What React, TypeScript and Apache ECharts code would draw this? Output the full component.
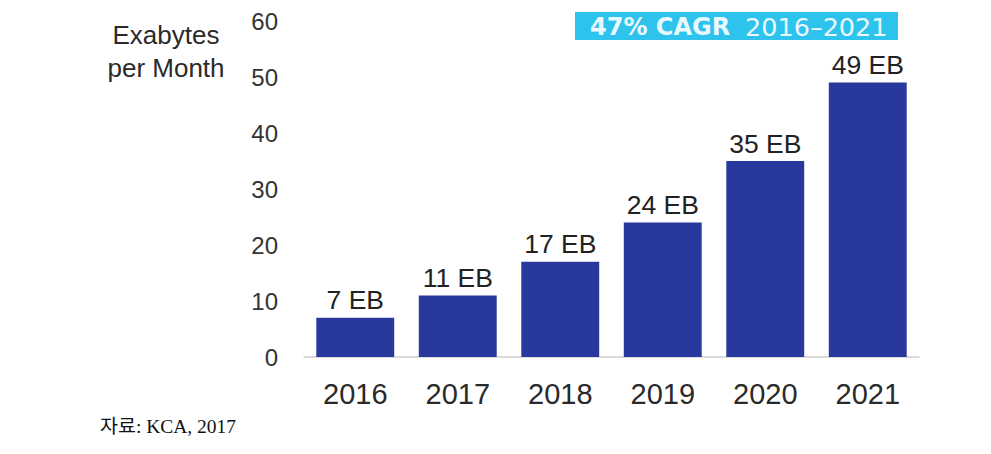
import React, { useEffect, useRef } from "react";
import * as echarts from "echarts";

const categories = ["2016", "2017", "2018", "2019", "2020", "2021"];
const values = [7, 11, 17, 24, 35, 49];
const labelSuffix = " EB";
const yTitleLines = ["Exabytes", "per Month"];
const cagrBold = "47% CAGR";
const cagrRange = "2016–2021";
const sourceText = "자료: KCA, 2017";

export default function App() {
  const ref = useRef<HTMLDivElement>(null);
  useEffect(() => {
    document.body.style.margin = "0";
    const chart = echarts.init(ref.current!, null, { renderer: "svg" });
    const font = "'Liberation Sans', Arial, sans-serif";
    const wide = "'DejaVu Sans', 'Liberation Sans', sans-serif";
    chart.setOption({
      animation: false,
      backgroundColor: "#ffffff",
      grid: { left: 304, right: 72, top: 21, bottom: 97 },
      xAxis: {
        type: "category",
        data: categories,
        axisLine: { show: true, lineStyle: { color: "#cfcfcf", width: 1.5 } },
        axisTick: { show: false },
        axisLabel: { fontSize: 29, color: "#2a2a2a", margin: 22, fontFamily: font },
      },
      yAxis: {
        type: "value",
        min: 0,
        max: 60,
        interval: 10,
        splitLine: { show: false },
        axisLine: { show: false },
        axisTick: { show: false },
        axisLabel: { fontSize: 24, color: "#333333", margin: 26, fontFamily: font, padding: [3, 0, 0, 0] },
      },
      series: [
        {
          type: "bar",
          data: values,
          barCategoryGap: "24%",
          itemStyle: { color: "#28389c" },
          label: {
            show: true,
            position: "top",
            distance: 4,
            fontSize: 26.5,
            color: "#222222",
            fontFamily: font,
            formatter: (p: any) => p.value + labelSuffix,
          },
        },
      ],
      graphic: [
        {
          type: "text",
          x: 166,
          y: 18,
          style: {
            text: yTitleLines.join("\n"),
            font: `26px ${font}`,
            fill: "#2a2a2a",
            align: "center",
            lineHeight: 33,
          },
        },
        {
          type: "rect",
          shape: { x: 575, y: 12, width: 323, height: 28 },
          style: { fill: "#2ec3ec" },
        },
        {
          type: "text",
          x: 590,
          y: 27,
          style: {
            text: cagrBold,
            font: `bold 24px ${wide}`,
            fill: "#eaf9ff",
            verticalAlign: "middle",
          },
        },
        {
          type: "text",
          x: 745,
          y: 27,
          style: {
            text: cagrRange,
            font: `25.5px ${wide}`,
            fill: "#eaf9ff",
            verticalAlign: "middle",
          },
        },
        {
          type: "text",
          x: 100,
          y: 426,
          style: {
            text: sourceText,
            font: `19.5px 'Liberation Serif', 'DejaVu Serif', 'Noto Sans CJK KR', serif`,
            fill: "#111111",
            verticalAlign: "middle",
          },
        },
      ],
    });
    return () => chart.dispose();
  }, []);
  return <div ref={ref} style={{ width: 991, height: 454 }} />;
}
